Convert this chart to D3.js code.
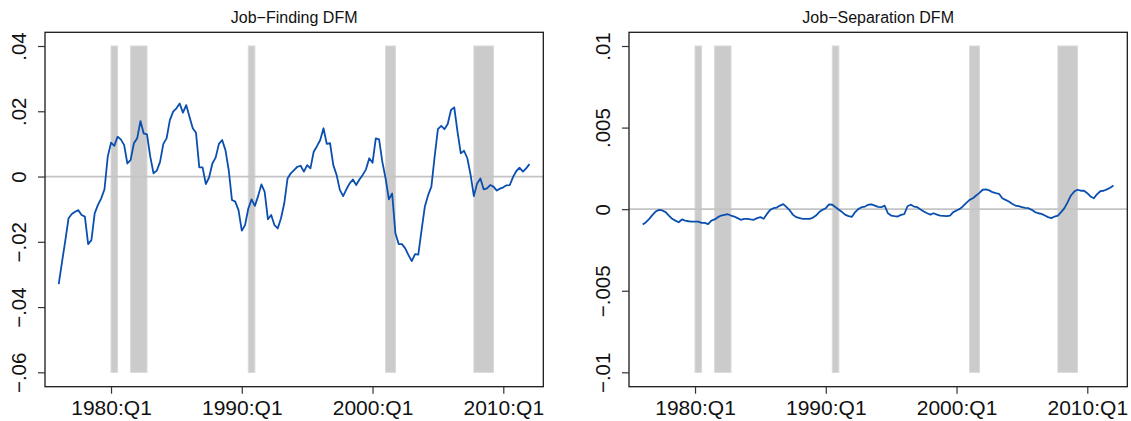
<!DOCTYPE html>
<html>
<head>
<meta charset="utf-8">
<script src="https://cdn.jsdelivr.net/npm/d3@7"></script>
<style>
  body { margin: 0; background: #fff; }
  svg { display: block; font-family: "Liberation Sans", Arial, Helvetica, sans-serif; }
</style>
</head>
<body>
<div id="vis"></div>
<script>
// quarterly series, 1976:Q1 .. 2012:Q1
var startYear = 1976;

var jobFinding = [
  -0.0330, -0.0262, -0.0197, -0.0128, -0.0115, -0.0108, -0.0103, -0.0118,
  -0.0123, -0.0207, -0.0195, -0.0113, -0.0087, -0.0067, -0.0039, 0.0061,
  0.0104, 0.0094, 0.0122, 0.0114, 0.0097, 0.0040, 0.0051, 0.0102,
  0.0117, 0.0170, 0.0132, 0.0129, 0.0061, 0.0010, 0.0018, 0.0045,
  0.0100, 0.0117, 0.0173, 0.0199, 0.0209, 0.0224, 0.0196, 0.0219,
  0.0183, 0.0148, 0.0134, 0.0028, 0.0028, -0.0023, -0.0003, 0.0040,
  0.0058, 0.0100, 0.0112, 0.0081, 0.0020, -0.0072, -0.0077, -0.0103,
  -0.0166, -0.0149, -0.0098, -0.0070, -0.0090, -0.0060, -0.0024, -0.0047,
  -0.0131, -0.0118, -0.0149, -0.0159, -0.0128, -0.0082, -0.0006, 0.0010,
  0.0020, 0.0030, 0.0033, 0.0015, 0.0035, 0.0025, 0.0076, 0.0093,
  0.0112, 0.0148, 0.0100, 0.0102, 0.0035, 0.0005, -0.0041, -0.0060,
  -0.0039, -0.0021, -0.0009, -0.0026, -0.0009, 0.0005, 0.0022, 0.0056,
  0.0042, 0.0117, 0.0114, 0.0045, -0.0006, -0.0070, -0.0052, -0.0174,
  -0.0207, -0.0207, -0.0220, -0.0241, -0.0259, -0.0238, -0.0239, -0.0164,
  -0.0092, -0.0057, -0.0031, 0.0061, 0.0145, 0.0155, 0.0145, 0.0161,
  0.0204, 0.0212, 0.0137, 0.0071, 0.0079, 0.0056, 0.0005, -0.0060,
  -0.0021, -0.0006, -0.0039, -0.0036, -0.0026, -0.0031, -0.0043, -0.0037,
  -0.0033, -0.0027, -0.0026, -0.0001, 0.0017, 0.0027, 0.0015, 0.0025,
  0.0038
];

var jobSeparation = [
  -0.00094, -0.00080, -0.00059, -0.00035, -0.00014, -0.00004, -0.00008, -0.00018,
  -0.00039, -0.00059, -0.00070, -0.00080, -0.00063, -0.00070, -0.00074, -0.00076,
  -0.00076, -0.00076, -0.00084, -0.00084, -0.00092, -0.00070, -0.00063, -0.00049,
  -0.00039, -0.00035, -0.00031, -0.00039, -0.00045, -0.00055, -0.00065, -0.00059,
  -0.00059, -0.00063, -0.00065, -0.00055, -0.00049, -0.00059, -0.00029, -0.00004,
  0.00006, 0.00010, 0.00022, 0.00031, 0.00012, -0.00008, -0.00035, -0.00049,
  -0.00055, -0.00059, -0.00059, -0.00059, -0.00053, -0.00039, -0.00018, -0.00004,
  0.00006, 0.00029, 0.00027, 0.00012, -0.00004, -0.00018, -0.00035, -0.00043,
  -0.00047, -0.00018, 0.00002, 0.00012, 0.00016, 0.00027, 0.00029, 0.00022,
  0.00014, 0.00012, 0.00022, -0.00025, -0.00039, -0.00043, -0.00045, -0.00035,
  -0.00031, 0.00018, 0.00027, 0.00016, 0.00012, -0.00002, -0.00014, -0.00025,
  -0.00033, -0.00025, -0.00033, -0.00039, -0.00041, -0.00043, -0.00039, -0.00018,
  -0.00008, 0.00002, 0.00018, 0.00039, 0.00057, 0.00067, 0.00084, 0.00100,
  0.00119, 0.00121, 0.00115, 0.00104, 0.00098, 0.00094, 0.00067, 0.00057,
  0.00047, 0.00033, 0.00022, 0.00018, 0.00012, 0.00008, 0.00006, -0.00004,
  -0.00018, -0.00025, -0.00029, -0.00039, -0.00049, -0.00055, -0.00045, -0.00039,
  -0.00018, 0.00006, 0.00043, 0.00084, 0.00108, 0.00119, 0.00113, 0.00113,
  0.00098, 0.00078, 0.00067, 0.00092, 0.00110, 0.00113, 0.00121, 0.00131,
  0.00145
];

// NBER recessions, peak quarter to trough quarter (decimal years)
var recessionStart = [1980.0, 1981.5, 1990.5, 2001.0, 2007.75];
var recessionEnd   = [1980.5, 1982.75, 1991.0, 2001.75, 2009.25];

var xTickYears = [1980, 1990, 2000, 2010];
var xTickLabels = ["1980:Q1", "1990:Q1", "2000:Q1", "2010:Q1"];

var findingTicks = [0.04, 0.02, 0, -0.02, -0.04, -0.06];
var findingTickLabels = [".04", ".02", "0", "\u2212.02", "\u2212.04", "\u2212.06"];
var separationTicks = [0.01, 0.005, 0, -0.005, -0.01];
var separationTickLabels = [".01", ".005", "0", "\u2212.005", "\u2212.01"];

var W = 1131, H = 421;
var svg = d3.select("#vis").append("svg")
  .attr("width", W)
  .attr("height", H);

function drawPanel(offsetX, title, values, yDomain, ticks, tickLabels) {
  var left = 45 + offsetX, right = 543.3 + offsetX, top = 32.3, bottom = 386.7;

  var x = d3.scaleLinear().domain([1974.95, 2013.06]).range([left, right]);
  var y = d3.scaleLinear().domain(yDomain).range([bottom, top]);

  var yMin = d3.min(ticks), yMax = d3.max(ticks);

  var g = svg.append("g");

  // recession shading
  g.selectAll("rect.rec")
    .data(recessionStart.map(function(s, i) { return {s: s, e: recessionEnd[i]}; }))
    .enter()
    .append("rect")
    .attr("x", function(d) { return x(d.s); })
    .attr("width", function(d) { return x(d.e) - x(d.s); })
    .attr("y", y(yMax))
    .attr("height", y(yMin) - y(yMax))
    .attr("fill", "#cbcbcb")
    .attr("stroke", "#d8d8d8")
    .attr("stroke-width", 1);

  // zero line
  g.append("line")
    .attr("x1", left).attr("x2", right)
    .attr("y1", y(0)).attr("y2", y(0))
    .attr("stroke", "#c4c4c4")
    .attr("stroke-width", 1.8);

  // series
  var line = d3.line()
    .x(function(d, i) { return x(startYear + i / 4); })
    .y(function(d) { return y(d); });
  g.append("path")
    .datum(values)
    .attr("d", line)
    .attr("fill", "none")
    .attr("stroke", "#0a4fb0")
    .attr("stroke-width", 1.8)
    .attr("stroke-linejoin", "round");

  // frame
  g.append("rect")
    .attr("x", left).attr("y", top)
    .attr("width", right - left).attr("height", bottom - top)
    .attr("fill", "none")
    .attr("stroke", "#1a1a1a")
    .attr("stroke-width", 1.3);

  // y axis
  var yAxis = d3.axisLeft(y)
    .tickValues(ticks)
    .tickSize(7)
    .tickPadding(0)
    .tickFormat(function(d, i) { return tickLabels[i]; });
  var ya = g.append("g")
    .attr("transform", "translate(" + left + ",0)")
    .call(yAxis);
  ya.select(".domain").remove();
  ya.selectAll(".tick line").attr("stroke", "#333").attr("stroke-width", 1.2);
  ya.selectAll(".tick text")
    .attr("x", null).attr("dy", null)
    .attr("transform", "translate(-19,0) rotate(-90)")
    .attr("text-anchor", "middle")
    .attr("fill", "#111")
    .style("font-size", "20.5px");

  // x axis
  var xAxis = d3.axisBottom(x)
    .tickValues(xTickYears)
    .tickSize(7)
    .tickPadding(0)
    .tickFormat(function(d, i) { return xTickLabels[i]; });
  var xa = g.append("g")
    .attr("transform", "translate(0," + bottom + ")")
    .call(xAxis);
  xa.select(".domain").remove();
  xa.selectAll(".tick line").attr("stroke", "#333").attr("stroke-width", 1.2);
  xa.selectAll(".tick text")
    .attr("y", 28).attr("dy", null)
    .attr("fill", "#111")
    .style("font-size", "21px");

  // title
  g.append("text")
    .attr("x", (left + right) / 2)
    .attr("y", 22.5)
    .attr("text-anchor", "middle")
    .attr("fill", "#111")
    .style("font-size", "16px")
    .text(title);
}

drawPanel(0, "Job\u2212Finding DFM", jobFinding, [-0.0644, 0.0442], findingTicks, findingTickLabels);
drawPanel(584, "Job\u2212Separation DFM", jobSeparation, [-0.01088, 0.01084], separationTicks, separationTickLabels);
</script>
</body>
</html>
